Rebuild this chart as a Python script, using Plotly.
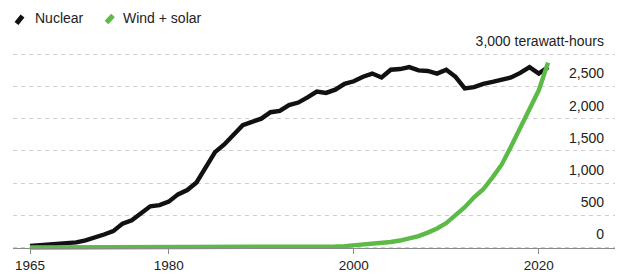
import plotly.graph_objects as go

# ---- data (TWh) ----
years = list(range(1965, 2022))
nuclear = [26, 34, 40, 52, 62, 80, 111, 153, 203, 255,
           372, 423, 530, 641, 659, 712, 825, 893, 1010, 1230,
           1480, 1600, 1750, 1900, 1950, 2000, 2100, 2120, 2210, 2250,
           2330, 2420, 2400, 2450, 2540, 2580, 2650, 2700, 2640, 2760,
           2770, 2800, 2750, 2740, 2700, 2760, 2650, 2470, 2490, 2540,
           2570, 2610, 2640, 2710, 2800, 2700, 2800]
wind_solar = [0, 0, 0, 0, 0, 0, 0, 0, 0, 0,
              0, 0, 0, 0, 0, 0, 0, 0, 0, 0,
              0, 1, 2, 3, 3, 4, 4, 5, 6, 7,
              8, 12, 12, 16, 22, 32, 39, 54, 64, 86,
              109, 139, 177, 232, 296, 380, 500, 625, 780, 905,
              1090, 1290, 1570, 1850, 2140, 2440, 2870]
series_names = ["Nuclear", "Wind + solar"]
series_colors = ["#111111", "#5cba47"]
x_ticks = [1965, 1980, 2000, 2020]
y_ticks = [0, 500, 1000, 1500, 2000, 2500, 3000]
y_ticktext = ["0", "500", "1,000", "1,500", "2,000", "2,500", "3,000 terawatt-hours"]

# ---- layout geometry ----
W, H = 620, 273
ML, MR, MT, MB = 13, 5, 51, 19
PW, PH = W - ML - MR, H - MT - MB
YMIN, YMAX = -100, 3050
FONT = "Liberation Sans, Arial, Helvetica, sans-serif"
TXT = "#222222"


def px(xp):
    return (xp - ML) / PW


def py(yp):
    return (H - MB - yp) / PH


fig = go.Figure()
for name, vals, col in zip(series_names, [nuclear, wind_solar], series_colors):
    fig.add_trace(go.Scatter(x=years, y=vals, mode="lines", name=name,
                             line=dict(color=col, width=4.4, shape="linear"),
                             showlegend=False, hoverinfo="skip"))

# custom legend (slanted strokes + labels)
legend_geo = [((16.5, 23.5), (22.5, 16.0), 33), ((106.5, 22.5), (113.0, 15.5), 121)]
for (p0, p1, tx), name, col in zip(legend_geo, series_names, series_colors):
    fig.add_shape(type="line", xref="paper", yref="paper",
                  x0=px(p0[0]), y0=py(p0[1]), x1=px(p1[0]), y1=py(p1[1]),
                  line=dict(color=col, width=5))
    fig.add_annotation(x=px(tx), y=py(18.5), xref="paper", yref="paper",
                       text=name, showarrow=False, xanchor="left", yanchor="middle",
                       font=dict(family=FONT, size=14, color=TXT))

pos0 = (0 - YMIN) / (YMAX - YMIN)
fig.update_layout(
    width=W, height=H,
    margin=dict(l=ML, r=MR, t=MT, b=MB, pad=0, autoexpand=False),
    plot_bgcolor="white", paper_bgcolor="white",
    font=dict(family=FONT, size=14, color=TXT),
    xaxis=dict(range=[1963.16, 2028.24], tickvals=x_ticks,
               ticktext=[str(v) for v in x_ticks], automargin=False,
               showgrid=False, zeroline=False,
               showline=True, linecolor="#8a8a8a", linewidth=1,
               ticks="outside", ticklen=5, tickcolor="#8a8a8a", tickwidth=1,
               anchor="free", position=pos0, ticklabelstandoff=0,
               tickfont=dict(family=FONT, size=13.5, color=TXT)),
    yaxis=dict(range=[YMIN, YMAX], tickvals=y_ticks, ticktext=y_ticktext,
               side="right", ticklabelposition="inside", ticks="",
               ticklabelshift=-13, ticklabelstandoff=8, automargin=False,
               ticklabeloverflow="allow",
               showgrid=True, gridcolor="#cfcfcf", gridwidth=1, griddash="4px,4px",
               zeroline=False, showline=False,
               tickfont=dict(family=FONT, size=14, color=TXT)),
)

fig.write_html("out.html", config={"displayModeBar": False},
               post_script="document.body.style.margin='0';")
